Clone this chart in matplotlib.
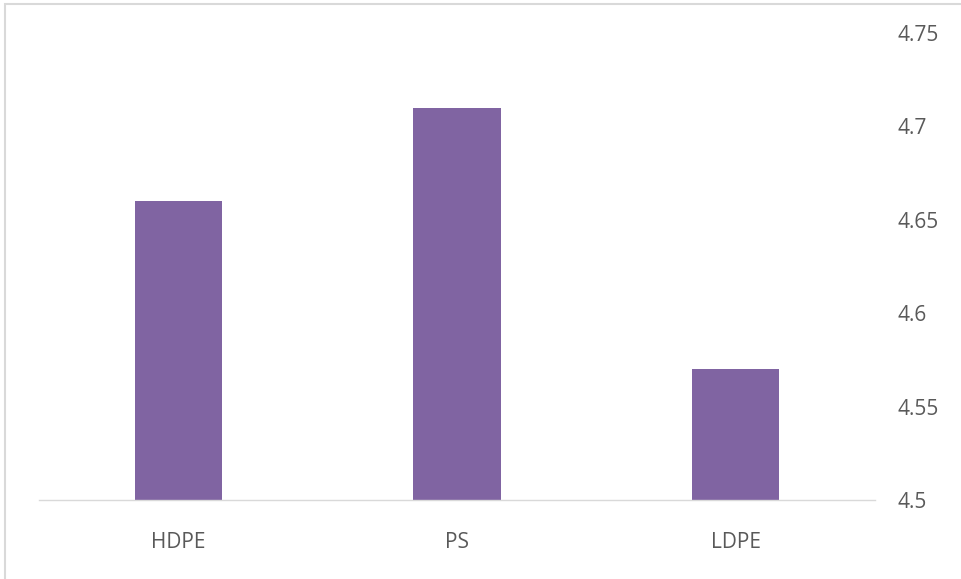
import matplotlib
matplotlib.use("Agg")
import matplotlib.pyplot as plt
from matplotlib.patches import Rectangle

categories = ["HDPE", "PS", "LDPE"]
values = [4.66, 4.71, 4.57]
y_ticks = [4.5, 4.55, 4.6, 4.65, 4.7, 4.75]
y_tick_labels = ["4.5", "4.55", "4.6", "4.65", "4.7", "4.75"]

W, H = 961, 579
fig = plt.figure(figsize=(W / 100, H / 100), dpi=100)
fig.patch.set_facecolor("white")

# light frame around the chart area (top and left edges visible)
fig.patches.append(Rectangle((5 / W, -0.1), 1.2, (H - 4) / H + 0.1,
                             transform=fig.transFigure, fill=False,
                             edgecolor="#d9d9d9", linewidth=1.5))

ax = fig.add_axes([39 / W, 1 - 500 / H, (875 - 39) / W, (500 - 33) / H])
x = range(len(categories))
ax.bar(x, values, width=0.313, color="#8064A2", zorder=2)
ax.set_xlim(-0.5, len(categories) - 0.5)
ax.set_ylim(4.5, 4.75)

ax.yaxis.tick_right()
ax.set_yticks(y_ticks)
ax.set_yticklabels(y_tick_labels)
ax.set_xticks(list(x))
ax.set_xticklabels(categories)

for s in ["top", "left", "right"]:
    ax.spines[s].set_visible(False)
ax.spines["bottom"].set_color("#d9d9d9")
ax.spines["bottom"].set_linewidth(1.0)

ax.tick_params(axis="y", length=0, pad=16, labelsize=15, labelcolor="#595959")
ax.tick_params(axis="x", length=0, pad=23, labelsize=15, labelcolor="#595959")
for lbl in ax.get_xticklabels() + ax.get_yticklabels():
    lbl.set_fontfamily("Open Sans")

fig.savefig("out.png", dpi=100)
